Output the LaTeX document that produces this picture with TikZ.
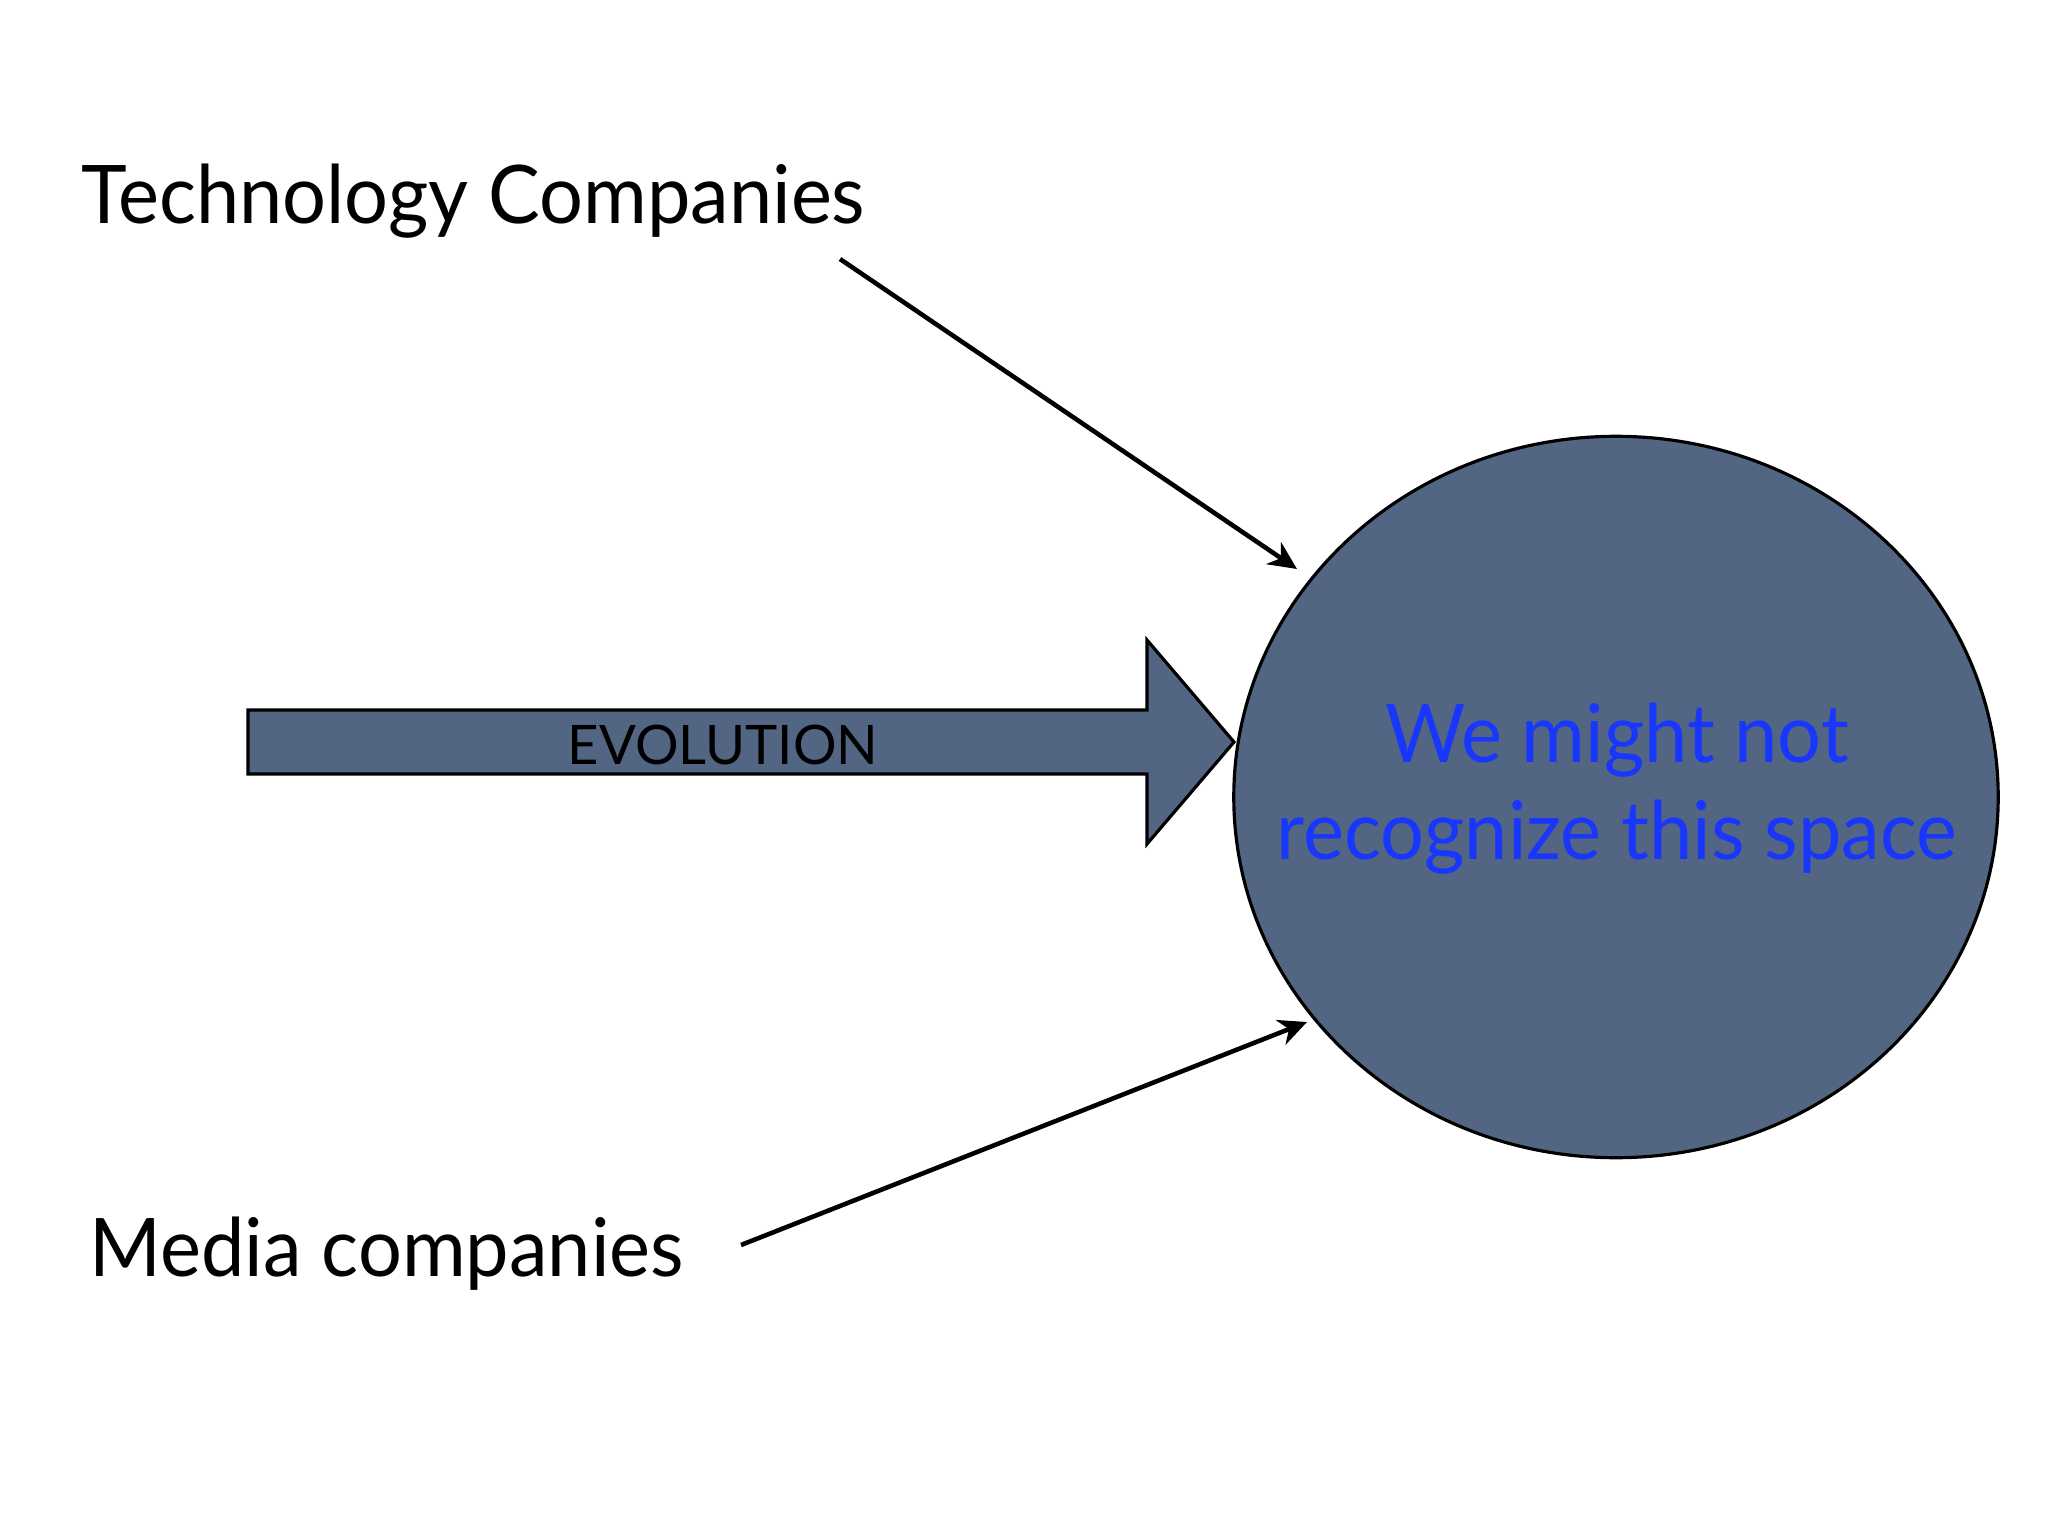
\documentclass[tikz,border=0pt]{standalone}
\usepackage{fontspec}
\setmainfont{Lato}[FakeStretch=0.958]
\newfontfamily\evofont{Lato}
\usetikzlibrary{arrows.meta, shapes.geometric}
\definecolor{slate}{RGB}{82,101,130}
\definecolor{spaceblue}{RGB}{25,55,252}
\tikzset{x=0.01cm, y=-0.01cm,
  conn/.style={-{Stealth[length=8pt, width=7.5pt, inset=2.5pt]}, line width=1.3pt},
  bigtext/.style={inner sep=0pt, font=\fontsize{23}{27.6}\selectfont},
  evoshape/.style={draw=black, line width=0.9pt, fill=slate}}

\begin{document}
\begin{tikzpicture}
        \useasboundingbox (0,0) rectangle (2048,1536);
        \node[bigtext, anchor=base west] (tech) at (81,223) {Technology Companies};
        \node[bigtext, anchor=base west] (media) at (89,1276) {Media companies};
        \node[ellipse, evoshape, minimum width=7.64cm, minimum height=7.21cm] (space) at (1616,797) {};
        \node[bigtext, align=center, text=spaceblue] (spacetext) at (1617,789) {We might not\\recognize this space};
        \draw[evoshape] (248,710) -- (1147,710) -- (1147,640) -- (1234,742) -- (1147,844) -- (1147,774) -- (248,774) -- cycle;
        \node[inner sep=0pt, anchor=base, font=\evofont\fontsize{15.5}{18}\selectfont] (evolution) at (723,764) {EVOLUTION};
        \coordinate (techtail) at (840,259);
        \coordinate (techtip) at (1297,569);
        \coordinate (mediatail) at (741,1245);
        \coordinate (mediatip) at (1307,1022);
        \draw[conn] (techtail) -- (techtip);
        \draw[conn] (mediatail) -- (mediatip);
    \end{tikzpicture}
\end{document}
